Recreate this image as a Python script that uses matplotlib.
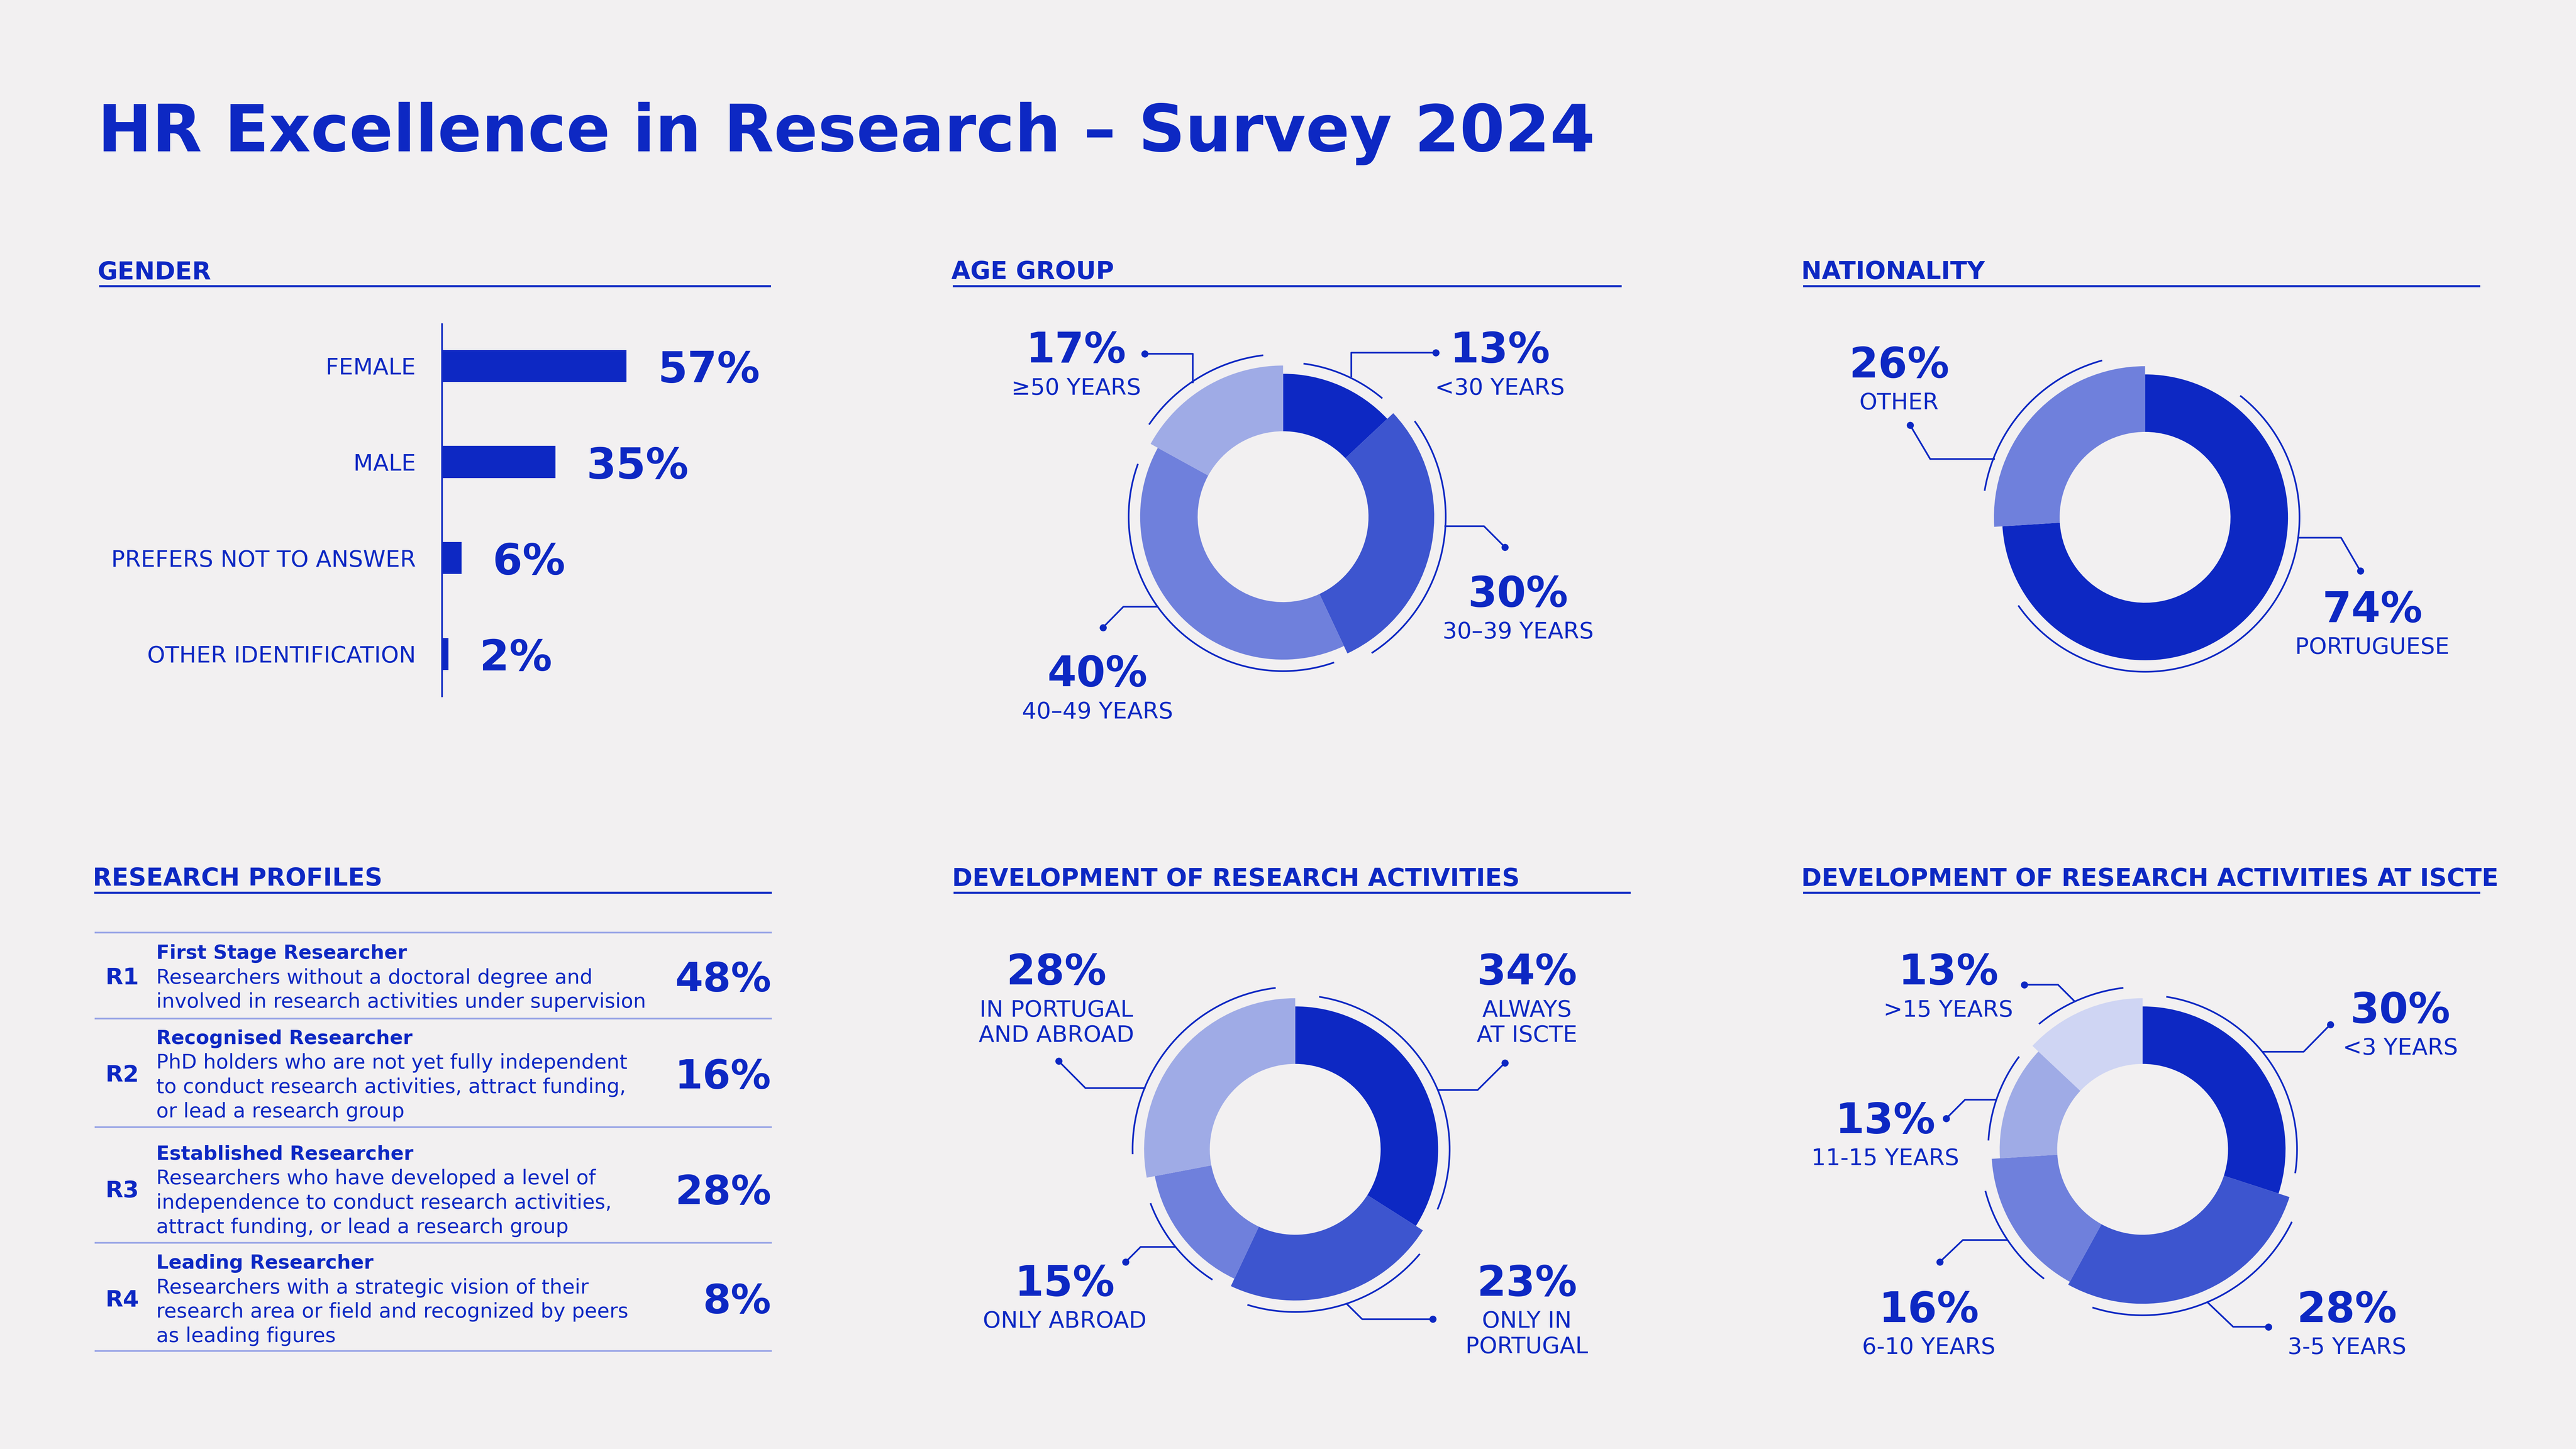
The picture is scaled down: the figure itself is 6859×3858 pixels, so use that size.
import numpy as np
import matplotlib
matplotlib.use('Agg')
import matplotlib.pyplot as plt

plt.rcParams['font.family'] = ['DejaVu Sans']

# colours
BG = '#F2F0F1'
BLUE = '#0D28C3'
SHADES = ['#0D28C3', '#3D55CF', '#6F80DC', '#9FABE6', '#CFD5F3']
RULE = '#97A3E6'

# ---------------- data ----------------
title = 'HR Excellence in Research – Survey 2024'

gender_labels = ['FEMALE', 'MALE', 'PREFERS NOT TO ANSWER', 'OTHER IDENTIFICATION']
gender_values = [57, 35, 6, 2]

age_labels = [['<30 YEARS'], ['30–39 YEARS'], ['40–49 YEARS'], ['≥50 YEARS']]
age_values = [13, 30, 40, 17]

nat_labels = [['PORTUGUESE'], ['OTHER']]
nat_values = [74, 26]

dev_labels = [['ALWAYS', 'AT ISCTE'], ['ONLY IN', 'PORTUGAL'], ['ONLY ABROAD'],
              ['IN PORTUGAL', 'AND ABROAD']]
dev_values = [34, 23, 15, 28]

iscte_labels = [['<3 YEARS'], ['3-5 YEARS'], ['6-10 YEARS'], ['11-15 YEARS'], ['>15 YEARS']]
iscte_values = [30, 28, 16, 13, 13]

profile_codes = ['R1', 'R2', 'R3', 'R4']
profile_titles = ['First Stage Researcher', 'Recognised Researcher',
                  'Established Researcher', 'Leading Researcher']
profile_desc = [
    ['Researchers without a doctoral degree and',
     'involved in research activities under supervision'],
    ['PhD holders who are not yet fully independent',
     'to conduct research activities, attract funding,',
     'or lead a research group'],
    ['Researchers who have developed a level of',
     'independence to conduct research activities,',
     'attract funding, or lead a research group'],
    ['Researchers with a strategic vision of their',
     'research area or field and recognized by peers',
     'as leading figures'],
]
profile_values = [48, 16, 28, 8]

# ---------------- layout (reference px, 1568 x 882) ----------------
W, H = 1568, 882
DPI = 400
PT = (6859 / DPI) * 72 / W  # points per layout px

TITLE_EM, HEAD_EM, PCT_EM, LAB_EM = 39.5, 15.0, 25.5, 13.9
R_IN = 52

fig = plt.figure(figsize=(6859 / DPI, 3858 / DPI), dpi=DPI)
fig.patch.set_facecolor(BG)
ax = fig.add_axes([0, 0, 1, 1])


def put(x, y, s, em, bold=False, ha='left', color=BLUE):
    ax.text(x, y, s, fontsize=em * PT, fontweight='bold' if bold else 'normal',
            ha=ha, va='center_baseline', color=color)


# title
ax.text(59.5, 92.1, title, fontsize=TITLE_EM * PT, fontweight='bold',
        color=BLUE, va='baseline')

# section headers + rules
headers = [('GENDER', 60.3, 164.4, 174.1, 469.4),
           ('AGE GROUP', 580.0, 164.2, 174.3, 987.2),
           ('NATIONALITY', 1097.5, 164.2, 174.3, 1509.8),
           ('RESEARCH PROFILES', 57.4, 533.3, 543.4, 469.7),
           ('DEVELOPMENT OF RESEARCH ACTIVITIES', 580.4, 533.7, 543.4, 992.7),
           ('DEVELOPMENT OF RESEARCH ACTIVITIES AT ISCTE', 1097.5, 533.7, 543.4, 1509.8)]
for s, x, yc, yl, x2 in headers:
    put(x - 1, yc, s, HEAD_EM, bold=True)
    ax.plot([x, x2], [yl, yl], color=BLUE, lw=1.0, solid_capstyle='butt')

# ---------------- gender bars ----------------
gax = fig.add_axes([269.1 / W, 1 - 423.8 / H, 197 / W, (423.8 - 197.3) / H])
gax.set_facecolor('none')
pos = np.arange(len(gender_values))
gax.barh(pos, gender_values, height=0.334, color=BLUE)
gax.set_xlim(0, 100)
gax.set_ylim(3.44, -0.436)
for sp in ['top', 'right', 'bottom']:
    gax.spines[sp].set_visible(False)
gax.spines['left'].set_color(BLUE)
gax.spines['left'].set_linewidth(0.8)
gax.set_xticks([])
gax.set_yticks(pos, gender_labels)
gax.tick_params(axis='y', length=0, pad=16 * PT, labelsize=LAB_EM * PT, labelcolor=BLUE)
for t in gax.get_yticklabels():
    t.set_va('center_baseline')
for i, v in enumerate(gender_values):
    gax.annotate(f'{v}%', xy=(v, i), xytext=(19 * PT, 0), textcoords='offset points',
                 fontsize=26 * PT, fontweight='bold', color=BLUE,
                 va='center_baseline', ha='left')

# ---------------- donuts ----------------
donut_layouts = [
    dict(values=age_values, labels=age_labels, center=(781, 314.5),
         colors=SHADES[:4], radii=[87, 92, 87, 92],
         arcs=[(7.6, 40), (54, 147), (160.7, 290), (304.5, 353)],
         leaders=[[(822.6, 229), (822.6, 214.7), (874, 214.7)],
                  [(879.7, 320.3), (903.3, 320.3), (916, 333)],
                  [(704.6, 369.3), (683.8, 369.3), (671.3, 382)],
                  [(726, 232.7), (726, 215.4), (696.8, 215.4)]],
         text=[(913, 211), (924, 359.5), (668, 408), (655, 211)]),
    dict(values=nat_values, labels=nat_labels, center=(1305.7, 314.9),
         colors=[SHADES[0], SHADES[2]], radii=[87, 92],
         arcs=[(38, 235.2), (279.4, 344.7)],
         leaders=[[(1399, 327.3), (1425, 327.3), (1436.7, 347.5)],
                  [(1213.8, 279.4), (1174.9, 279.4), (1162.7, 258.8)]],
         text=[(1444, 368.8), (1156, 220)]),
    dict(values=dev_values, labels=dev_labels, center=(788.4, 699.6),
         colors=SHADES[:4], radii=[87, 92, 87, 92],
         arcs=[(8.9, 112.9), (130, 197.1), (212.4, 249.6), (268.3, 353.1)],
         leaders=[[(875.8, 663.5), (899.4, 663.5), (916, 647)],
                  [(820, 793.9), (829.2, 803), (872.2, 803)],
                  [(714.8, 759), (694.3, 759), (685.2, 768.1)],
                  [(696.8, 662.3), (660.7, 662.3), (644.4, 645.9)]],
         text=[(929.5, 589.5), (929.4, 779), (648, 779), (643, 589.5)]),
    dict(values=iscte_values, labels=iscte_labels, center=(1304.2, 699.6),
         colors=SHADES, radii=[87, 94, 92, 87, 92],
         arcs=[(8.8, 98.9), (115.9, 197.6), (217.3, 255.2), (273.3, 306.9), (320.4, 353.2)],
         leaders=[[(1377.6, 640.2), (1402.2, 640.2), (1418.4, 623.7)],
                  [(1344, 793), (1359.3, 807.6), (1380.7, 807.6)],
                  [(1221.5, 754.8), (1194.8, 754.8), (1180.8, 768.1)],
                  [(1214.4, 669.4), (1196.1, 669.4), (1184.7, 680.8)],
                  [(1262.8, 609.5), (1252.7, 599.4), (1232.2, 599.4)]],
         text=[(1461, 612.7), (1428.5, 795), (1174, 795), (1147.5, 680), (1186, 589.5)]),
]

for d in donut_layouts:
    cx, cy = d['center']
    # y axis is inverted, so counterclock from -90 runs clockwise from 12 o'clock
    wedges, _ = ax.pie(d['values'], colors=d['colors'], startangle=-90, counterclock=True,
                       center=d['center'], radius=1, frame=True,
                       wedgeprops=dict(linewidth=0))
    for w, r in zip(wedges, d['radii']):
        w.set_radius(r)
        w.set_width(r - R_IN)
    # thin outer arcs
    for (a1, a2), r in zip(d['arcs'], d['radii']):
        t = np.radians(np.linspace(a1, a2, 200))
        ax.plot(cx + (r + 7) * np.sin(t), cy - (r + 7) * np.cos(t),
                color=BLUE, lw=0.8, solid_capstyle='butt')
    # leader lines
    for pts in d['leaders']:
        xs, ys = zip(*pts)
        ax.plot(xs, ys, color=BLUE, lw=0.8)
        ax.plot(xs[-1], ys[-1], 'o', color=BLUE, ms=3.4, mew=0)
    # labels
    for (tx, ty), v, lines in zip(d['text'], d['values'], d['labels']):
        put(tx, ty, f'{v}%', PCT_EM, bold=True, ha='center')
        for k, line in enumerate(lines):
            put(tx, ty + 24 + 15.5 * k, line, LAB_EM, ha='center')

# ---------------- research profiles table ----------------
row_rules = [567.7, 620, 686.1, 756.5, 822.4]
row_centers = [594, 653.2, 723.6, 790]
LINE = 14.8
for y in row_rules:
    ax.plot([57.5, 469.7], [y, y], color=RULE, lw=0.8, solid_capstyle='butt')
for code, ttl, desc, val, yc in zip(profile_codes, profile_titles, profile_desc,
                                     profile_values, row_centers):
    put(64, yc, code, 14, bold=True)
    lines = [ttl] + desc
    y0 = yc - LINE * (len(lines) - 1) / 2
    for k, line in enumerate(lines):
        put(95, y0 + LINE * k, line, 11.8 if k == 0 else 12.3, bold=(k == 0))
    put(469.5, yc, f'{val}%', 24.5, bold=True, ha='right')

ax.set_aspect('auto')
ax.set_xlim(0, W)
ax.set_ylim(H, 0)
ax.axis('off')

fig.savefig('out.png', dpi=DPI, facecolor=BG)
